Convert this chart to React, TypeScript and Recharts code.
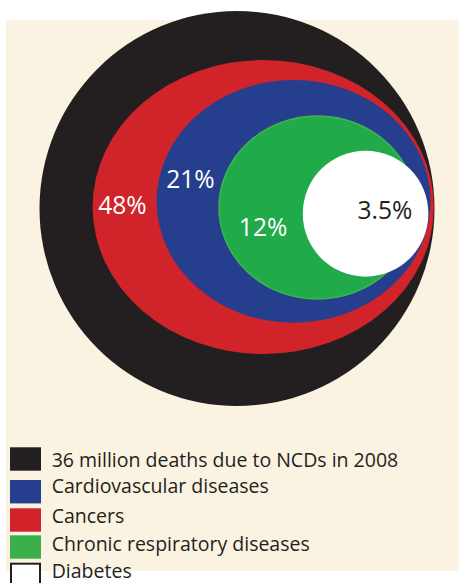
import React from 'react';
import { ScatterChart, XAxis, YAxis, ReferenceArea, ReferenceDot } from 'recharts';

// Nested regions, outer to inner (units: outer circle radius = 100)
const ringNames = ['NCD deaths', 'Ring 48%', 'Ring 21%', 'Ring 12%', 'Ring 3.5%'];
const ringShares = [100, 48, 21, 12, 3.5];
const ringLabels = ['', '48%', '21%', '12%', '3.5%'];
const ringLeft = [-100, -73.1, -40.7, -9.1, 33.3];
const ringRight = [100, 99.7, 98.0, 90.6, 96.9];
const ringTop = [100, 75.2, 65.1, 46.8, 29.3];
const ringBottom = [-100, -73.7, -57.8, -45.8, -34.5];
const ringColors = ['#231f20', '#d0232a', '#253f8e', '#21aa4a', '#ffffff'];
const labelX = [0, -58.0, -23.6, 13.2, 74.9];
const labelY = [0, 1.5, 15.0, -9.7, -1.0];
const labelColors = ['#ffffff', '#ffffff', '#ffffff', '#ffffff', '#231f20'];

// Legend
const legendNames = [
  '36 million deaths due to NCDs in 2008',
  'Cardiovascular diseases',
  'Cancers',
  'Chronic respiratory diseases',
  'Diabetes',
];
const legendColors = ['#231f20', '#253f8e', '#d2232a', '#3bb04a', '#ffffff'];
const legendSwatchTop = [447.3, 480, 508.3, 535.3, 562.7];
const legendBaseline = [466.7, 493.3, 523.3, 550.7, 578];

const FONT = '"Open Sans", "Liberation Sans", sans-serif';

const ellipseShape = (fill: string, stroke?: string) => (props: any) => {
  const { x, y, width, height } = props;
  return (
    <ellipse
      cx={x + width / 2}
      cy={y + height / 2}
      rx={Math.abs(width) / 2}
      ry={Math.abs(height) / 2}
      fill={fill}
      stroke={stroke || 'none'}
      strokeWidth={stroke ? 1.6 : 0}
    />
  );
};

export default function App() {
  return (
    <div style={{ position: 'absolute', left: 0, top: 0, width: 459, height: 583, background: '#ffffff', overflow: 'hidden' }}>
      <div style={{ position: 'absolute', left: 6, top: 20, width: 453, height: 551, background: '#fbf3e2' }} />
      <div style={{ position: 'absolute', left: 0, top: 0 }}>
        <ScatterChart width={459} height={420} margin={{ top: 0, right: 0, bottom: 0, left: 0 }}>
          <XAxis type="number" dataKey="x" domain={[-120, 112.4]} hide allowDataOverflow />
          <YAxis type="number" dataKey="y" domain={[-107.1, 105.6]} hide allowDataOverflow />
          {ringNames.map((name, i) => (
            <ReferenceArea
              key={name}
              x1={ringLeft[i]}
              x2={ringRight[i]}
              y1={ringBottom[i]}
              y2={ringTop[i]}
              ifOverflow="visible"
              shape={ellipseShape(ringColors[i], i === 3 ? '#3db34d' : undefined)}
            />
          ))}
          {ringNames.map((name, i) =>
            ringLabels[i] ? (
              <ReferenceDot
                key={name + '-label'}
                x={labelX[i]}
                y={labelY[i]}
                r={0}
                fill="none"
                stroke="none"
                ifOverflow="visible"
                label={{
                  value: ringShares[i] + '%',
                  position: 'center',
                  fill: labelColors[i],
                  fontSize: 24.6,
                  fontFamily: FONT,
                }}
              />
            ) : null
          )}
        </ScatterChart>
      </div>
      <svg width={459} height={583} style={{ position: 'absolute', left: 0, top: 0 }}>
        {legendNames.map((name, i) => (
          <g key={name}>
            {i === 4 ? (
              <rect x={11} y={legendSwatchTop[i] + 1} width={29} height={30} fill="#ffffff" stroke="#231f20" strokeWidth={2} />
            ) : (
              <rect x={10} y={legendSwatchTop[i]} width={31} height={23.4} fill={legendColors[i]} />
            )}
            <text x={51.7} y={legendBaseline[i]} fontFamily={FONT} fontSize={19.5} fill="#231f20">
              {name}
            </text>
          </g>
        ))}
      </svg>
    </div>
  );
}
